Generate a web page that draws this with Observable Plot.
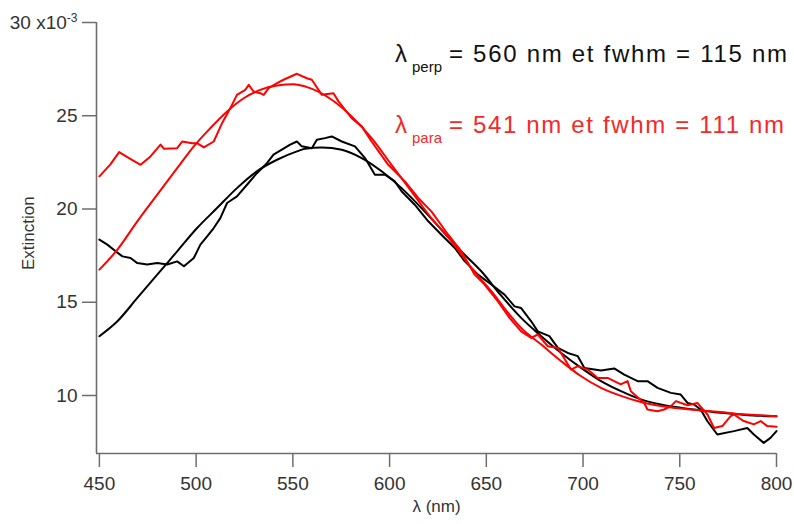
<!DOCTYPE html>
<html><head><meta charset="utf-8">
<script src="https://cdn.jsdelivr.net/npm/d3@7"></script>
<script src="https://cdn.jsdelivr.net/npm/@observablehq/plot@0.6"></script>
<style>body{margin:0;background:#fff} svg{display:block}</style>
</head><body><div id="chart"></div>
<script>
const xTicks = [450, 500, 550, 600, 650, 700, 750, 800];
const yTicks = [10, 15, 20, 25, 30];

// Red (parallel) measured spectrum
const redDataL = [450,455.7,460.2,465.3,471.3,476.4,481.6,483.4,490.2,492.8,497.9,500.5,504,509.1,513.4,517.7,521.1,525.4,527.2,529.7,533.1,534.9,537.5,541.8,545.2,552.1,557.2,559.8,565,571,573.6,580.4,585.6,590.7,599.3,607.9,614.8,621.6,630.3,637.1,644,649.1,656,662,668,673.2,676.6,681.8,687,693.8,697.3,702.4,707.6,712.7,716.1,719.5,723,724.7,731.6,733.3,738.5,741.9,745.4,748,754,759.1,764.3,767.7,772,776.3,778,783.1,788.3,791.8,795.2,800];
const redDataV = [21.75,22.39,23.05,22.73,22.37,22.82,23.45,23.23,23.26,23.62,23.53,23.53,23.30,23.62,24.60,25.41,26.12,26.39,26.66,26.30,26.21,26.12,26.48,26.75,26.93,27.25,27.01,26.93,26.12,26.21,25.77,24.87,24.43,23.62,22.37,21.48,20.59,19.87,18.62,17.73,16.48,15.95,15.05,14.16,13.44,13.09,13.27,12.64,12.55,11.39,11.57,11.39,10.94,10.94,10.77,10.60,10.77,10.23,9.60,9.25,9.16,9.25,9.43,9.70,9.48,9.60,8.98,8.26,8.36,8.89,8.98,8.63,8.45,8.63,8.36,8.32];

// Red fit
const redFitL = [450,459.3,469.6,479.9,490.2,498.8,507.4,516,524.6,533.1,541.8,550.4,557,570.1,580.4,590.7,601,611.3,621.6,632,642.3,652.6,662,668,678.4,688.7,699,709.3,719.6,729.9,740.2,750.5,760.8,771.1,781.4,791.8,800];
const redFitV = [16.75,17.82,19.34,20.77,22.19,23.36,24.34,25.23,25.94,26.39,26.62,26.69,26.55,25.86,24.96,23.80,22.37,20.94,19.51,18.27,16.84,15.59,14.34,13.62,12.73,11.84,11.03,10.41,9.98,9.65,9.44,9.30,9.20,9.11,9.01,8.94,8.89];

// Black (perpendicular) measured spectrum
const blackDataL = [450,454.1,458.4,461.9,466.1,469.6,474.7,479.9,485.1,490.2,493.7,498.8,502.2,505.7,509.1,512.5,516,521.1,526.3,531.4,536.6,540,544.3,548.6,552.1,554.6,559.8,562.4,566.6,570.1,575.3,582.1,587.3,592.4,597.6,602.7,606.2,613,620,626.8,633.7,638.9,645.7,652.6,659.4,664.6,668,673.2,676.6,682.6,687,692.1,697.3,700.7,709.3,716.1,721.3,728.2,733.3,738.5,745.4,750.5,754,757.4,760.8,764.3,769.4,778,784.9,788.3,793.4,796.9,800];
const blackDataV = [18.36,18.09,17.73,17.46,17.37,17.10,17.02,17.10,17.02,17.19,16.93,17.37,18.09,18.53,18.98,19.51,20.32,20.68,21.30,21.92,22.46,22.91,23.18,23.45,23.62,23.36,23.26,23.71,23.80,23.89,23.62,23.36,22.73,21.84,21.84,21.48,20.95,20.23,19.34,18.62,17.91,17.19,16.48,15.95,15.41,14.78,14.69,13.98,13.44,13.18,12.55,12.28,12.11,11.48,11.34,11.45,11.12,10.77,10.77,10.41,10.14,10.05,9.60,9.52,9.25,8.62,7.91,8.09,8.26,7.91,7.46,7.73,8.09];

// Black fit
const blackFitL = [450,459.3,469.6,479.9,490.2,500.5,510.8,521.1,531.4,541.8,552.1,556.3,565,575.3,585.6,595.9,606.2,616.5,626.8,637.1,647.4,657.7,668,678.4,688.7,699,709.3,719.6,729.9,740.2,750.5,760.8,771.1,781.4,791.8,800];
const blackFitV = [13.18,13.98,15.23,16.48,17.73,18.98,20.05,21.12,22.02,22.64,23.09,23.23,23.30,23.18,22.73,22.02,21.12,20.05,18.89,17.73,16.66,15.35,14.16,13.18,12.28,11.48,10.77,10.23,9.79,9.52,9.34,9.20,9.07,8.98,8.91,8.89];

const labelPerp = {sym: "λ", sub: "perp", rest: "= 560 nm et fwhm = 115 nm"};
const labelPara = {sym: "λ", sub: "para", rest: "= 541 nm et fwhm = 111 nm"};

const pts = (xs, ys) => xs.map((x, i) => ({x, y: ys[i]}));
const FONT = '"Liberation Sans", Arial, sans-serif';
const AX = "#6e6e6e";
const XMIN = 448.5, YMIN = 6.89;

const plot = Plot.plot({
  width: 794, height: 524,
  marginLeft: 96, marginRight: 18, marginTop: 22, marginBottom: 71,
  x: {domain: [XMIN, 800]},
  y: {domain: [YMIN, 30]},
  style: {fontFamily: FONT, background: "#fff", color: "#333"},
  marks: [
    Plot.axisX({ticks: xTicks, tickSize: 14, tickPadding: 9, fontSize: 19, stroke: AX, strokeWidth: 1.5, fill: "#333", label: null, tickFormat: d => String(d)}),
    Plot.axisY({ticks: yTicks, tickSize: 14, tickPadding: 5, fontSize: 19, stroke: AX, strokeWidth: 1.5, fill: "#333", label: null, tickFormat: d => String(d)}),
    Plot.ruleX([XMIN], {stroke: AX, strokeWidth: 1.6}),
    Plot.ruleY([YMIN], {stroke: AX, strokeWidth: 1.6}),
    Plot.line(pts(blackDataL, blackDataV), {x: "x", y: "y", stroke: "#000", strokeWidth: 2}),
    Plot.line(pts(blackFitL, blackFitV), {x: "x", y: "y", stroke: "#000", strokeWidth: 2, curve: "monotone-x"}),
    Plot.line(pts(redDataL, redDataV), {x: "x", y: "y", stroke: "#ff0000", strokeWidth: 2}),
    Plot.line(pts(redFitL, redFitV), {x: "x", y: "y", stroke: "#ff0000", strokeWidth: 2, curve: "monotone-x"}),
    Plot.text(["Extinction"], {frameAnchor: "left", rotate: -90, dx: -68, dy: 32, fontSize: 17, fill: "#333"}),
    Plot.text(["λ (nm)"], {frameAnchor: "bottom", dy: 58, fontSize: 17, fill: "#333"})
  ]
});
document.getElementById("chart").appendChild(plot);

const svg = d3.select(plot);
svg.selectAll('g[aria-label="y-axis tick label"] text, g[aria-label="x-axis tick label"] text')
  .style("font-size", "19px");
svg.selectAll("text").each(function () {
  const t = d3.select(this);
  if (this.textContent === "30" && this.closest('g[aria-label="y-axis tick label"]')) {
    t.text("30 x10");
    t.append("tspan").attr("dy", "-0.55em").style("font-size", "12px").text("-3");
  }
});

function addLabel(lab, y, color, restWidth) {
  const g = svg.append("g").attr("fill", color).attr("font-family", FONT).attr("text-anchor", "start");
  g.append("text").attr("x", 395).attr("y", y).attr("font-size", 24).text(lab.sym);
  g.append("text").attr("x", 412).attr("y", y + 9.5).attr("font-size", 15).text(lab.sub);
  g.append("text").attr("x", 449).attr("y", y).attr("font-size", 24)
    .attr("textLength", restWidth).attr("lengthAdjust", "spacing").text(lab.rest);
}
addLabel(labelPerp, 62, "#111", 338);
addLabel(labelPara, 133, "#f22a2a", 335);
</script>
</body></html>
